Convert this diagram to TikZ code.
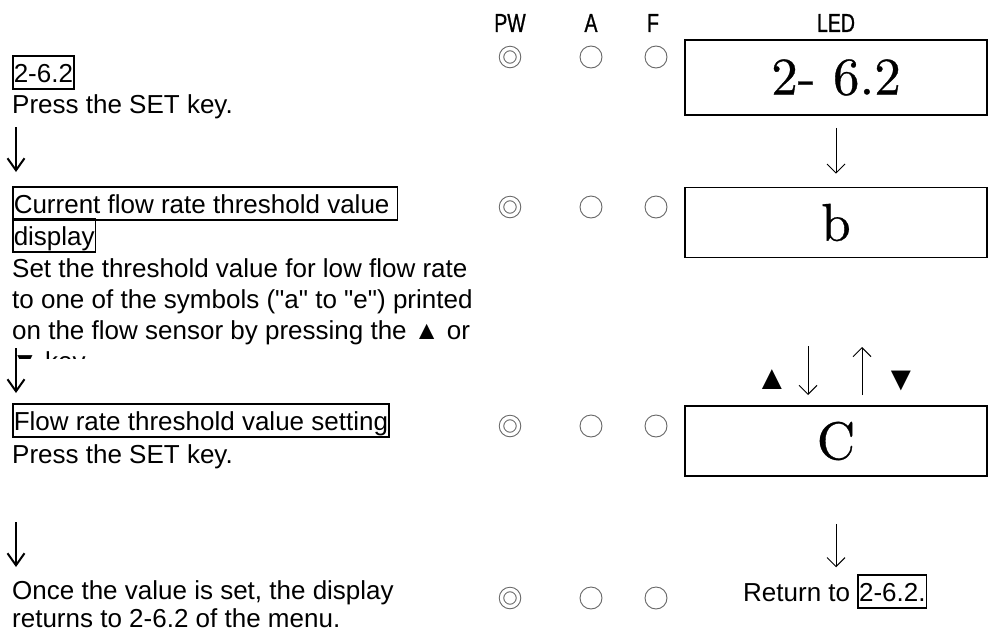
\documentclass[tikz,border=0pt]{standalone}
\usepackage{fontspec}
\newfontfamily\arialfont{Liberation Sans}
\newfontfamily\hdrfont[FakeStretch=0.75,FakeBold=0.8]{Liberation Sans}
\newfontfamily\ledfont[Extension=.otf,FakeBold=0.6]{lmroman10-regular}
\usetikzlibrary{arrows.meta,positioning}

\tikzset{
  txt/.style={font=\arialfont\fontsize{26}{31}\selectfont, anchor=base west, inner sep=0pt, align=left},
  tagbox/.style={txt, draw, line width=1.5pt, inner xsep=1pt, inner ysep=2pt, text height=24pt, text depth=5pt},
  ledbox/.style={draw, line width=1.6pt, minimum width=302pt, minimum height=70pt, inner sep=0pt, font=\ledfont\fontsize{53}{53}\selectfont},
  hdr/.style={font=\hdrfont\fontsize{26}{26}\selectfont, inner sep=0pt},
  lamp/.style={circle, draw=black!60, line width=0.9pt, minimum size=22pt, inner sep=0pt},
  lampon/.style={lamp, minimum size=17pt, double, double distance=3.4pt, line width=1pt},
  flow/.style={-{Straight Barb[length=9pt,width=18pt]}, line width=1pt},
  bigflow/.style={-{Straight Barb[length=12pt,width=17pt]}, line width=2pt},
  keysym/.style={font=\arialfont\fontsize{34}{34}\selectfont, inner sep=0pt},
}

\begin{document}
\begin{tikzpicture}[x=1pt,y=-1pt]
\useasboundingbox (0,0) rectangle (994,635);
% column heads
\node[hdr] (hpw) at (510,23) {PW};
\node[hdr] (ha) at (591,23) {A};
\node[hdr] (hf) at (653,23) {F};
\node[hdr] (hled) at (836,23) {LED};
% LED display
\node[ledbox, minimum height=75pt] (led1) at (836,77.5) {2- 6.2};
\node[ledbox] (led2) at (836,222.5) {b};
\node[ledbox] (led3) at (836,441) {C};
% lamps
\node[lampon] (pw1) at (510,57) {};
\node[lamp] (a1) at (591,57) {};
\node[lamp] (f1) at (656,57) {};
\node[lampon] (pw2) at (510,207) {};
\node[lamp] (a2) at (591,207) {};
\node[lamp] (f2) at (656,207) {};
\node[lampon] (pw3) at (510,426) {};
\node[lamp] (a3) at (591,426) {};
\node[lamp] (f3) at (656,426) {};
\node[lampon] (pw4) at (510,598) {};
\node[lamp] (a4) at (591,598) {};
\node[lamp] (f4) at (656,598) {};
% display arrows
\draw[flow, shorten <=12pt, shorten >=13pt] (led1) -- (led2);
\coordinate (dntop) at (808,346);
\coordinate (dnbot) at (808,395);
\coordinate (uptop) at (862,347);
\coordinate (upbot) at (862,395);
\draw[flow] (dntop) -- (dnbot);
\draw[flow] (upbot) -- (uptop);
\node[keysym] (kup) at (772,380) {▲};
\node[keysym] (kdn) at (901,381) {▼};
\node[txt] (ret) at (743,601) {Return to};
\node[tagbox, anchor=base west] (retref) at ([xshift=7pt]ret.base east) {2-6.2.};
\draw[flow, shorten <=47pt, shorten >=7pt] (led3.south) -- (led3.south |- retref.north);
% left column
\node[tagbox] (t1) at (12,82) {2-6.2};
\node[txt] (t1a) at (12,113) {Press the SET key.};
\coordinate (l1top) at (16,127);
\coordinate (l1bot) at (16,172);
\draw[bigflow] (l1top) -- (l1bot);
\node[tagbox] (t2) at (12,213) {Current flow rate threshold value\ };
\node[tagbox] (t2b) at (12,245) {display};
% text cut off at its frame
\begin{scope}
\clip (0,252) rectangle (480,358);
\node[txt] (t2c) at (12,370) {Set the threshold value for low flow rate\\to one of the symbols ("a" to "e") printed\\on the flow sensor by pressing the ▲ or\\▼ key.};
\end{scope}
\coordinate (l2top) at (16,348);
\coordinate (l2bot) at (16,393);
\draw[bigflow] (l2top) -- (l2bot);
\node[tagbox] (t3) at (12,430) {Flow rate threshold value setting};
\node[txt] (t3a) at (12,463) {Press the SET key.};
\coordinate (l3top) at (16,522);
\coordinate (l3bot) at (16,567);
\draw[bigflow] (l3top) -- (l3bot);
\node[txt, font=\arialfont\fontsize{26}{28}\selectfont] (t4) at (12,627) {Once the value is set, the display\\returns to 2-6.2 of the menu.};
\end{tikzpicture}
\end{document}
